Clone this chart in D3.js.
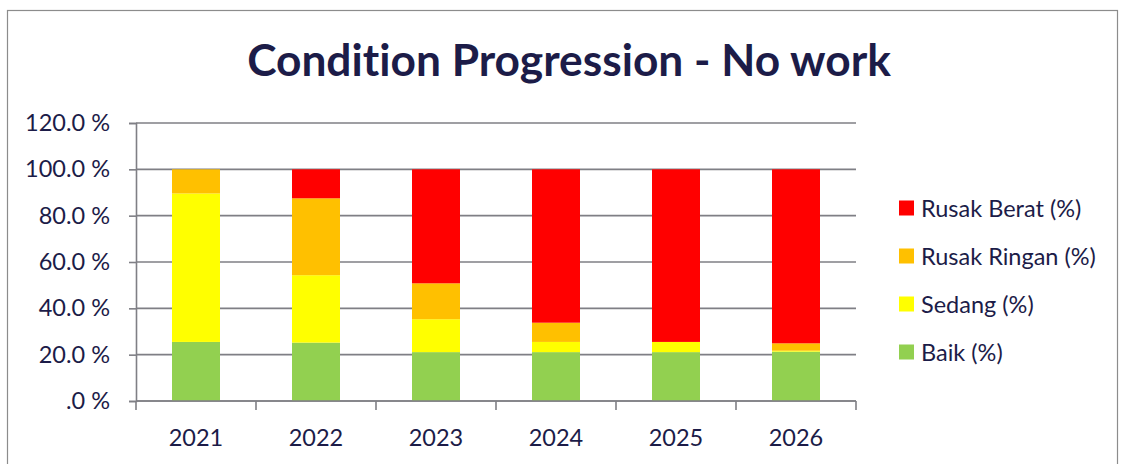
<!DOCTYPE html>
<html>
<head>
<meta charset="utf-8">
<script src="https://cdn.jsdelivr.net/npm/d3@7"></script>
<style>
  body { margin: 0; background: #fff; }
  text { font-family: Lato, "Open Sans", sans-serif; fill: #1c1c48;
         font-variant-ligatures: none; font-feature-settings: "liga" 0, "clig" 0; }
</style>
</head>
<body>
<div id="chart"></div>
<script>
// data (percent of road length)
var years = ["2021", "2022", "2023", "2024", "2025", "2026"];
var baik = [25.5, 25.2, 21.1, 21.1, 21.1, 21.3];
var sedang = [64.1, 29.1, 14.2, 4.4, 4.4, 0.4];
var rusakRingan = [10.4, 33.2, 15.5, 8.3, 0, 3.2];
var rusakBerat = [0, 12.5, 49.2, 66.2, 74.5, 75.1];
var yTicks = [0, 20, 40, 60, 80, 100, 120];

var seriesNames = ["Baik (%)", "Sedang (%)", "Rusak Ringan (%)", "Rusak Berat (%)"];
var seriesColors = ["#92d050", "#ffff00", "#ffc000", "#ff0000"];

var W = 1126, H = 464;
var svg = d3.select("#chart").append("svg")
  .attr("width", W)
  .attr("height", H);

// chart border (cut at the bottom like the screenshot)
svg.append("rect")
  .attr("x", 7.5).attr("y", 10.5)
  .attr("width", 1110).attr("height", 470)
  .attr("fill", "none")
  .attr("stroke", "#8c8c8c")
  .attr("stroke-width", 1.2);

// title, fit to the width seen in the reference
var title = svg.append("text")
  .attr("x", 569).attr("y", 76)
  .attr("text-anchor", "middle")
  .attr("font-weight", "bold")
  .attr("font-size", 40)
  .text("Condition Progression - No work");
var tw = title.node().getComputedTextLength();
title.attr("font-size", 40 * 644 / tw);

var rows = years.map(function(y, i) {
  return { year: y, "Baik (%)": baik[i], "Sedang (%)": sedang[i],
           "Rusak Ringan (%)": rusakRingan[i], "Rusak Berat (%)": rusakBerat[i] };
});
var stacked = d3.stack().keys(seriesNames)(rows);

var x = d3.scaleBand().domain(years).range([136, 856]).paddingInner(0.6).paddingOuter(0.3);
var y = d3.scaleLinear().domain([0, 120]).range([401, 123]);

// gridlines
svg.append("g")
  .selectAll("line")
  .data(yTicks)
  .enter().append("line")
  .attr("x1", 136).attr("x2", 856)
  .attr("y1", d => y(d)).attr("y2", d => y(d))
  .attr("stroke", "#7f7f85")
  .attr("stroke-width", 1.6);

// bars
svg.append("g")
  .selectAll("g")
  .data(stacked)
  .enter().append("g")
  .attr("fill", (d, i) => seriesColors[i])
  .selectAll("rect")
  .data(d => d)
  .enter().append("rect")
  .attr("x", d => x(d.data.year))
  .attr("width", x.bandwidth())
  .attr("y", d => y(d[1]))
  .attr("height", d => y(d[0]) - y(d[1]));

// y axis
var yAxis = svg.append("g")
  .attr("transform", "translate(136,0)")
  .call(d3.axisLeft(y).tickValues(yTicks).tickSize(7).tickPadding(19)
    .tickFormat(d => (d === 0 ? ".0" : d3.format(".1f")(d)) + " %"));
yAxis.select(".domain").attr("stroke", "#7f7f85").attr("stroke-width", 1.6);
yAxis.selectAll(".tick line").attr("stroke", "#7f7f85").attr("stroke-width", 1.6);
yAxis.selectAll(".tick text")
  .attr("font-size", 23.5)
  .attr("font-family", "Lato, sans-serif")
  .attr("fill", "#1c1c48");

// x axis: ticks at band boundaries
var xEdges = d3.range(years.length + 1).map(i => 136 + i * 120);
var xAxisG = svg.append("g");
xAxisG.append("line")
  .attr("x1", 136).attr("x2", 856)
  .attr("y1", 401).attr("y2", 401)
  .attr("stroke", "#7f7f85").attr("stroke-width", 1.6);
xAxisG.selectAll("line.tk")
  .data(xEdges)
  .enter().append("line")
  .attr("class", "tk")
  .attr("x1", d => d).attr("x2", d => d)
  .attr("y1", 401).attr("y2", 410)
  .attr("stroke", "#7f7f85").attr("stroke-width", 1.6);
xAxisG.selectAll("text")
  .data(years)
  .enter().append("text")
  .attr("x", d => x(d) + x.bandwidth() / 2)
  .attr("y", 446)
  .attr("text-anchor", "middle")
  .attr("font-size", 23.5)
  .text(d => d);

// legend (top to bottom: reverse stacking order)
var legendItems = seriesNames.slice().reverse();
var legend = svg.append("g")
  .selectAll("g")
  .data(legendItems)
  .enter().append("g")
  .attr("transform", (d, i) => "translate(899," + (208 + i * 48) + ")");
legend.append("rect")
  .attr("x", 0).attr("y", -7.5)
  .attr("width", 15).attr("height", 15)
  .attr("fill", d => seriesColors[seriesNames.indexOf(d)]);
legend.append("text")
  .attr("x", 22).attr("y", 8.5)
  .attr("font-size", 23.5)
  .text(d => d);
</script>
</body>
</html>
